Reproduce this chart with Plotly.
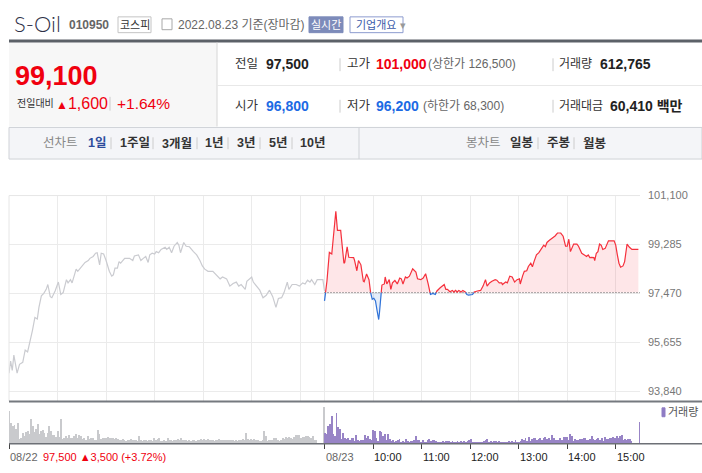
import numpy as np
import plotly.graph_objects as go

W, H = 702, 473
FONT = "Liberation Sans, Noto Sans CJK KR, sans-serif"

# 08/22 (gray line), minutes since 09:00
t_0822 = [0, 2, 4, 6, 10, 13, 17, 20, 23, 25,
          27, 29, 32, 35, 37, 40, 43, 46, 48, 51,
          53, 57, 61, 64, 67, 71, 73, 76, 78, 83,
          85, 90, 94, 98, 100, 104, 107, 109, 112, 114,
          117, 120, 124, 127, 129, 131, 134, 136, 138, 143,
          149, 153, 155, 160, 163, 166, 169, 172, 174, 177,
          180, 182, 185, 188, 193, 195, 198, 201, 204, 208,
          210, 212, 216, 219, 223, 228, 232, 236, 239, 242,
          246, 252, 256, 261, 264, 269, 273, 277, 281, 284,
          287, 292, 294, 300, 302, 306, 310, 314, 318, 322,
          326, 330, 333, 337, 340, 344, 346, 350, 355, 359,
          363, 366, 369, 372, 374, 378, 381, 388, 390]
p_0822 = [94510, 94960, 94610, 95180, 94510, 94840, 94910, 95370, 95300, 95550,
          95910, 96100, 96580, 96520, 96950, 97380, 97470, 97620, 97800, 97350,
          97310, 97560, 97890, 97430, 97500, 97980, 97860, 97980, 97860, 98370,
          98290, 98490, 98620, 98690, 98770, 98840, 98960, 98980, 98530, 98960,
          98930, 98690, 98290, 98110, 98160, 98410, 98410, 98650, 98590, 98770,
          98770, 98690, 98860, 98900, 98690, 98770, 98840, 98620, 98900, 98960,
          98930, 99020, 98980, 99100, 99180, 99100, 99180, 98980, 99220, 99360,
          99260, 98980, 99360, 99220, 99200, 99020, 98900, 98690, 98490, 98370,
          98290, 98290, 98160, 98010, 98080, 98010, 97740, 97840, 97890, 97740,
          97800, 97620, 97920, 98080, 97890, 97740, 97590, 97310, 97400, 97590,
          97350, 96950, 97280, 97310, 97500, 97890, 97620, 97800, 97800, 97740,
          97860, 97820, 97960, 97890, 97980, 97800, 97980, 97980, 97560]

# 08/23 (today), minutes since 09:00
t_0823 = [0, 3, 6, 9, 14, 16, 20, 24, 25, 28,
          30, 36, 37, 40, 42, 45, 48, 49, 52, 55,
          57, 59, 61, 63, 65, 67, 68, 70, 71, 74,
          75, 77, 80, 82, 84, 87, 90, 93, 95, 97,
          100, 102, 105, 109, 113, 115, 119, 122, 125, 128,
          131, 134, 137, 139, 143, 145, 148, 150, 152, 155,
          158, 160, 162, 164, 166, 169, 171, 174, 176, 178,
          183, 185, 189, 193, 196, 199, 201, 204, 207, 211,
          213, 216, 219, 220, 224, 226, 229, 232, 235, 238,
          241, 242, 245, 247, 250, 252, 255, 257, 259, 262,
          265, 268, 271, 273, 275, 278, 281, 285, 288, 292,
          295, 298, 300, 302, 304, 306, 308, 312, 314, 318,
          321, 324, 326, 328, 330, 333, 334, 336, 338, 340,
          342, 344, 347, 349, 351, 358, 360, 362, 364, 366,
          369, 371, 373, 374, 377, 380, 388]
p_0823 = [97190, 97920, 98990, 98930, 100520, 99810, 99810, 98590, 98620, 99200,
          98810, 98800, 98710, 98310, 98690, 98530, 97920, 97900, 98190, 97980,
          97500, 97250, 97290, 97190, 96830, 96500, 96770, 97470, 97780, 97820,
          98080, 97820, 97980, 97620, 97860, 97950, 97820, 98040, 98010, 97820,
          98080, 98040, 98110, 98380, 98260, 98010, 97980, 98040, 98200, 97840,
          97430, 97470, 97430, 97560, 97680, 97720, 97800, 97620, 97620, 97530,
          97580, 97520, 97580, 97520, 97580, 97520, 97580, 97520, 97430, 97410,
          97430, 97520, 97560, 97580, 97740, 97980, 97740, 97860, 97920, 97980,
          97960, 97860, 97860, 97800, 97890, 97860, 98110, 98080, 97890, 97980,
          98010, 97820, 98130, 98290, 98310, 98470, 98590, 98460, 98650, 98900,
          98980, 99100, 99260, 99200, 99360, 99440, 99510, 99600, 99710, 99710,
          99590, 99220, 99220, 99480, 99020, 99180, 99300, 99300, 99220, 98960,
          98900, 98840, 98900, 98800, 98810, 98800, 98690, 98960, 99020, 99300,
          99260, 99100, 99140, 99300, 99420, 99420, 99260, 98900, 98590, 98440,
          98490, 98650, 99080, 99300, 99180, 99100, 99100]

# volume bars (relative heights), 2-minute bars 09:00-15:20
vol_0822 = [100, 62, 52, 55, 45, 63, 13, 17, 33, 22,
            34, 37, 28, 73, 52, 35, 43, 58, 28, 37,
            40, 32, 20, 32, 52, 38, 25, 25, 20, 37,
            20, 73, 13, 18, 22, 18, 25, 17, 17, 22,
            30, 17, 25, 22, 15, 18, 10, 22, 15, 18,
            18, 12, 12, 40, 30, 15, 18, 18, 17, 20,
            18, 17, 17, 15, 17, 13, 12, 10, 13, 12,
            7, 12, 10, 13, 10, 12, 10, 8, 22, 10,
            7, 10, 12, 8, 10, 12, 8, 18, 10, 13,
            17, 8, 8, 10, 8, 18, 10, 12, 7, 12,
            10, 13, 12, 17, 12, 12, 10, 8, 12, 7,
            12, 10, 8, 12, 10, 15, 12, 15, 12, 13,
            10, 12, 10, 8, 12, 10, 15, 12, 10, 12,
            10, 12, 10, 12, 10, 7, 10, 8, 12, 10,
            13, 10, 32, 15, 12, 13, 10, 13, 12, 12,
            8, 8, 12, 37, 22, 8, 10, 10, 12, 17,
            18, 12, 8, 12, 18, 15, 20, 18, 20, 17,
            15, 20, 25, 25, 25, 18, 20, 20, 22, 22,
            20, 17, 22, 12, 10]
vol_0823 = [33, 28, 53, 60, 82, 30, 22, 93, 50, 45,
            13, 33, 18, 15, 17, 10, 18, 18, 8, 25,
            12, 8, 12, 10, 25, 17, 22, 15, 10, 40,
            37, 17, 8, 37, 35, 22, 28, 12, 30, 15,
            8, 10, 5, 8, 10, 13, 5, 8, 5, 13,
            8, 5, 8, 7, 12, 22, 10, 10, 5, 10,
            5, 5, 10, 15, 8, 12, 12, 8, 5, 5,
            5, 8, 5, 8, 8, 8, 5, 8, 5, 5,
            8, 5, 7, 5, 8, 5, 8, 12, 13, 5,
            5, 5, 5, 5, 5, 5, 8, 10, 13, 5,
            8, 5, 8, 8, 5, 8, 5, 5, 5, 5,
            5, 8, 5, 8, 5, 10, 5, 5, 8, 13,
            10, 17, 8, 20, 8, 13, 17, 18, 12, 15,
            17, 12, 18, 20, 13, 18, 12, 25, 17, 12,
            12, 10, 18, 12, 20, 20, 20, 12, 30, 22,
            8, 13, 12, 10, 13, 15, 17, 17, 10, 12,
            15, 22, 13, 12, 15, 17, 12, 17, 8, 20,
            15, 13, 18, 17, 20, 18, 22, 17, 22, 25,
            10, 13, 10, 13, 13, 8]
vol_close_0822 = 110
vol_close_0823 = 64

prev_close = 97500
y_ticks = [93840, 95655, 97470, 99285, 101100]
y_range = [93480, 101100]
x_ticks = [0, 390, 450, 510, 570, 630, 690, 750]
x_tick_labels = ["08/22", "08/23", "10:00", "11:00", "12:00", "13:00", "14:00", "15:00"]
grid_x = [60, 120, 180, 240, 300, 360, 390, 450, 510, 570, 630, 690, 750]

assert len(t_0822) == len(p_0822) and len(t_0823) == len(p_0823)

RED = "#f5303c"
BLUE = "#2f72d8"


def split_at_base(ts, ps, base):
    # add crossing points so the line can change colour at the baseline
    xs, ys = [ts[0]], [ps[0]]
    for i in range(1, len(ts)):
        a, b = ps[i - 1] - base, ps[i] - base
        if a * b < 0:
            xs.append(ts[i - 1] + (ts[i] - ts[i - 1]) * a / (a - b))
            ys.append(base)
        xs.append(ts[i])
        ys.append(ps[i])
    return np.array(xs), np.array(ys, dtype=float)


x23 = [390 + t for t in t_0823]
xs, ys = split_at_base(x23, p_0823, prev_close)
base_arr = np.full(len(xs), prev_close)

fig = go.Figure()

# fills
fig.add_trace(go.Scatter(x=xs, y=base_arr, mode="lines", line=dict(width=0), showlegend=False))
fig.add_trace(go.Scatter(x=xs, y=np.maximum(ys, prev_close), mode="lines", line=dict(width=0),
                         fill="tonexty", fillcolor="rgba(245,60,75,0.13)", showlegend=False))
fig.add_trace(go.Scatter(x=xs, y=base_arr, mode="lines", line=dict(width=0), showlegend=False))
fig.add_trace(go.Scatter(x=xs, y=np.minimum(ys, prev_close), mode="lines", line=dict(width=0),
                         fill="tonexty", fillcolor="rgba(50,115,220,0.13)", showlegend=False))

# baseline (previous close)
fig.add_trace(go.Scatter(x=[390, 780], y=[prev_close, prev_close], mode="lines",
                         line=dict(color="#555", width=1, dash="1px,2px"), showlegend=False))

# lines
fig.add_trace(go.Scatter(x=t_0822, y=p_0822, mode="lines",
                         line=dict(color="#cacbd0", width=1.2), showlegend=False))
fig.add_trace(go.Scatter(x=xs, y=np.where(ys >= prev_close, ys, np.nan), mode="lines",
                         line=dict(color=RED, width=1.2), showlegend=False))
fig.add_trace(go.Scatter(x=xs, y=np.where(ys <= prev_close, ys, np.nan), mode="lines",
                         line=dict(color=BLUE, width=1.2), showlegend=False))

# volume
vx22 = list(np.linspace(0, 379, len(vol_0822))) + [388.5]
vx23 = list(390 + np.linspace(0, 379, len(vol_0823))) + [779.4]
fig.add_trace(go.Bar(x=vx22, y=vol_0822 + [vol_close_0822], width=1.1, offset=0,
                     marker=dict(color="#c9cacd", line=dict(width=0)),
                     xaxis="x2", yaxis="y2", showlegend=False))
fig.add_trace(go.Bar(x=vx23, y=vol_0823 + [vol_close_0823], width=1.1, offset=0,
                     marker=dict(color="#9884c6", line=dict(width=0)),
                     xaxis="x2", yaxis="y2", showlegend=False))


def px(x):
    return x / W


def py(y):
    return 1 - y / H


def line(x0, y0, x1, y1, color, width=1):
    return dict(type="line", xref="paper", yref="paper", x0=px(x0), y0=py(y0), x1=px(x1), y1=py(y1),
                line=dict(color=color, width=width), layer="above")


def box(x0, y0, x1, y1, fill="rgba(0,0,0,0)", border=None):
    return dict(type="rect", xref="paper", yref="paper", x0=px(x0), y0=py(y0), x1=px(x1), y1=py(y1),
                fillcolor=fill, line=dict(color=border or "rgba(0,0,0,0)", width=1), layer="below")


def label(x, y, text, size=12, color="#333", anchor="left", family=FONT, weight=None):
    f = dict(family=family, size=size, color=color)
    if weight:
        f["weight"] = weight
    return dict(xref="paper", yref="paper", x=px(x), y=py(y), text=text, showarrow=False,
                xanchor=anchor, yanchor="middle", font=f, borderpad=0)


shapes = [
    # header
    box(118, 11, 151, 27, "#ffffff", "#c4c4c4"),
    box(162, 13, 172, 24, "#ffffff", "#a8a8a8"),
    box(309, 11, 343, 27, "#7d8bba", "#7d8bba"),
    box(350, 11, 403, 27, "#ffffff", "#8d9ccf"),
    line(9, 35.5, 702, 35.5, "#5c6168", 3),
    # price panel
    box(9, 37, 217, 122, "#f7f7f7"),
    line(217, 37, 217, 122, "#d6d6d6"),
    line(217, 80.5, 702, 80.5, "#e8e8e8"),
    line(340, 53, 340, 66, "#cccccc"), line(553, 53, 553, 66, "#cccccc"),
    line(340, 95, 340, 108, "#cccccc"), line(553, 95, 553, 108, "#cccccc"),
    line(110, 92, 110, 106, "#cccccc"),
    # tab bar
    box(9, 123, 702, 155, "#f4f5f8", "#cfd2d7"),
    line(359, 123, 359, 155, "#cfd2d7"),
    # chart frame
    line(9, 192, 9, 400, "#e6e6e6"),
    line(9, 192, 640, 192, "#e6e6e6"),
    line(9, 400.5, 702, 400.5, "#75797f", 2),
    line(9, 443.5, 702, 443.5, "#6d7076", 1.5),
    box(662, 407, 665, 416, "#8f7cc4", "#8f7cc4"),
]
for sx in [111, 153, 197, 228, 260, 292, 538, 574]:
    shapes.append(line(sx, 133, sx, 145, "#cccccc"))

ann = [
    label(13, 18, "S-Oil", 22, "#2e3047", family="Lato, Noto Sans", weight=300),
    label(68, 19, "<b>010950</b>", 12, "#666"),
    label(134.5, 19, "코스피", 11, "#333", anchor="center"),
    label(177, 19, "2022.08.23 기준(장마감)", 12, "#666"),
    label(326, 19, "실시간", 11, "#ffffff", anchor="center"),
    label(355, 19, "기업개요 <span style='color:#999'>▾</span>", 11, "#3c5aa8"),
    label(14, 71, "<b>99,100</b>", 27, "#f0000f"),
    label(16, 99, "전일대비", 10, "#333"),
    label(55, 99, "<span style='font-size:12px'>▲</span>1,600", 16, "#f0000f"),
    label(116, 99, "+1.64%", 15.5, "#f0000f"),
    label(234, 59, "전일", 12.5, "#333"),
    label(265, 59, "<b>97,500</b>", 14, "#222"),
    label(346, 59, "고가", 12.5, "#333"),
    label(375, 59, "<b>101,000</b>", 14, "#f0000f"),
    label(427, 59, "(상한가 126,500)", 12, "#666"),
    label(558, 59, "거래량", 12, "#333"),
    label(599, 59, "<b>612,765</b>", 14, "#222"),
    label(234, 101.5, "시가", 12.5, "#333"),
    label(265, 101.5, "<b>96,800</b>", 14, "#1c6ae4"),
    label(346, 101.5, "저가", 12.5, "#333"),
    label(375, 101.5, "<b>96,200</b>", 14, "#1c6ae4"),
    label(422, 101.5, "(하한가 68,300)", 12, "#666"),
    label(558, 101.5, "거래대금", 12, "#333"),
    label(609, 101.5, "<b>60,410 백만</b>", 14, "#222"),
    label(42, 139, "선차트", 12.5, "#888"),
    label(87, 139, "<b>1일</b>", 12.5, "#2d4c9c"),
    label(119, 139, "<b>1주일</b>", 12.5, "#333"),
    label(161, 139, "<b>3개월</b>", 12.5, "#333"),
    label(204, 139, "<b>1년</b>", 12.5, "#333"),
    label(236, 139, "<b>3년</b>", 12.5, "#333"),
    label(268, 139, "<b>5년</b>", 12.5, "#333"),
    label(299, 139, "<b>10년</b>", 12.5, "#333"),
    label(465, 139, "봉차트", 12.5, "#888"),
    label(509, 139, "<b>일봉</b>", 12.5, "#333"),
    label(546, 139, "<b>주봉</b>", 12.5, "#333"),
    label(582, 139, "<b>월봉</b>", 12.5, "#333"),
    label(667, 411.5, "거래량", 11, "#555"),
    label(42, 456.5, "97,500 ▲3,500 (+3.72%)", 11, "#f0000f"),
]
x_left = px(9)
x_span = px(640) - px(9)
for tv, tl in zip(x_ticks, x_tick_labels):
    col = "#666" if "/" in tl else "#222"
    a = label(0, 456.5, tl, 11, col)
    a["x"] = x_left + x_span * tv / 780
    ann.append(a)

fig.update_layout(
    width=W, height=H, autosize=False,
    margin=dict(l=0, r=0, t=0, b=0),
    paper_bgcolor="#ffffff", plot_bgcolor="rgba(0,0,0,0)",
    font=dict(family=FONT, size=11, color="#777"),
    hovermode=False, bargap=0,
    xaxis=dict(domain=[px(9), px(640)], range=[0, 780], tickvals=grid_x, showticklabels=False,
               showgrid=True, gridcolor="#ebebeb", gridwidth=1, zeroline=False, ticks="", fixedrange=True),
    yaxis=dict(domain=[py(400), py(192)], range=y_range, side="right", tickvals=y_ticks,
               ticktext=[f"{v:,}" for v in y_ticks], showgrid=True, gridcolor="#ebebeb",
               zeroline=False, ticks="", ticklabelstandoff=7,
               tickfont=dict(family=FONT, size=11, color="#777")),
    xaxis2=dict(domain=[px(9), px(640)], range=[0, 780], anchor="y2", tickvals=x_ticks,
                showticklabels=False, showgrid=False, zeroline=False, ticks="outside",
                ticklen=5, tickcolor="#444", tickwidth=1),
    yaxis2=dict(domain=[py(443), py(401)], range=[0, 126], anchor="x2", showgrid=False,
                showticklabels=False, zeroline=False, ticks=""),
    shapes=shapes,
    annotations=ann,
)

# page has a default 8px body margin; drop it so the figure sits at the window corner
fig.write_html("out.html", config={"displayModeBar": False},
               post_script="document.body.style.margin='0';document.body.style.padding='0';")
